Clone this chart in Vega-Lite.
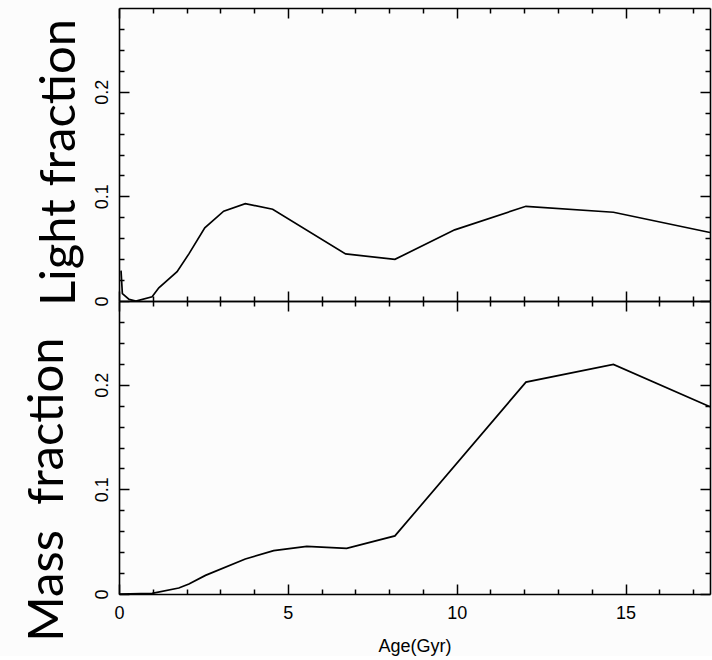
{
  "$schema": "https://vega.github.io/schema/vega-lite/v6.json",
  "background": "#fcfcfc",
  "padding": {"left": 23, "top": 7, "right": 0, "bottom": 0},
  "spacing": 0,
  "bounds": "flush",
  "datasets": {
    "light": [
      {"age": 0.06, "frac": 0.029},
      {"age": 0.1, "frac": 0.007},
      {"age": 0.3, "frac": 0.0015},
      {"age": 0.5, "frac": 0.0},
      {"age": 0.98, "frac": 0.004},
      {"age": 1.18, "frac": 0.0126},
      {"age": 1.72, "frac": 0.028},
      {"age": 2.07, "frac": 0.045},
      {"age": 2.54, "frac": 0.07},
      {"age": 3.1, "frac": 0.0858},
      {"age": 3.74, "frac": 0.093},
      {"age": 4.55, "frac": 0.0877},
      {"age": 6.71, "frac": 0.045},
      {"age": 8.17, "frac": 0.0398},
      {"age": 9.94, "frac": 0.068},
      {"age": 12.05, "frac": 0.0905},
      {"age": 14.64, "frac": 0.0848},
      {"age": 17.5, "frac": 0.0655}
    ],
    "mass": [
      {"age": 0.0, "frac": 0.0},
      {"age": 0.98, "frac": 0.0006},
      {"age": 1.77, "frac": 0.0057},
      {"age": 2.07, "frac": 0.0096},
      {"age": 2.56, "frac": 0.0178},
      {"age": 3.74, "frac": 0.0335},
      {"age": 4.58, "frac": 0.0414},
      {"age": 5.56, "frac": 0.0455},
      {"age": 6.74, "frac": 0.0436},
      {"age": 8.17, "frac": 0.0555},
      {"age": 12.05, "frac": 0.2025},
      {"age": 14.64, "frac": 0.2194},
      {"age": 17.5, "frac": 0.179}
    ]
  },
  "config": {
    "view": {"stroke": null},
    "axis": {
      "grid": false,
      "domainColor": "black",
      "domainWidth": 1.6,
      "tickColor": "black",
      "tickWidth": 1.5,
      "labelColor": "black",
      "titleColor": "black",
      "labelFont": "Liberation Sans",
      "labelFontSize": 18,
      "titleFont": "Liberation Sans",
      "titleFontWeight": "normal",
      "labelFlush": false,
      "labelOverlap": false
    },
    "line": {"color": "black", "strokeWidth": 1.7, "clip": true}
  },
  "vconcat": [
    {
      "width": 591,
      "height": 293,
      "data": {"name": "light"},
      "layer": [
        {
          "mark": {"type": "line"},
          "encoding": {
            "x": {
              "field": "age", "type": "quantitative",
              "scale": {"domain": [0, 17.5], "nice": false, "zero": false},
              "axis": {"orient": "bottom", "values": [0, 5, 10, 15], "tickSize": -10, "labels": false, "title": null}
            },
            "y": {
              "field": "frac", "type": "quantitative",
              "scale": {"domain": [0, 0.28], "nice": false},
              "axis": {
                "orient": "left", "values": [0, 0.1, 0.2], "format": "~g", "tickSize": -10,
                "labelAngle": -90, "labelAlign": "center", "labelBaseline": "alphabetic", "labelPadding": 22,
                "title": "Light fraction", "titleFont": "Lato", "titleFontSize": 49, "titleAngle": -90,
                "titleX": -45, "titleY": 154, "titleAlign": "center", "titleBaseline": "alphabetic"
              }
            }
          }
        },
        {
          "mark": {"type": "line", "strokeOpacity": 0},
          "encoding": {
            "x": {"field": "age", "type": "quantitative", "axis": {"orient": "bottom", "values": [1, 2, 3, 4, 6, 7, 8, 9, 11, 12, 13, 14, 16, 17], "tickSize": -5, "labels": false, "domain": false, "title": null}},
            "y": {"field": "frac", "type": "quantitative", "axis": {"orient": "left", "values": [0.02, 0.04, 0.06, 0.08, 0.12, 0.14, 0.16, 0.18, 0.22, 0.24, 0.26], "tickSize": -5, "labels": false, "domain": false, "title": null}}
          }
        },
        {
          "mark": {"type": "line", "strokeOpacity": 0},
          "encoding": {
            "x": {"field": "age", "type": "quantitative", "axis": {"orient": "top", "values": [0, 5, 10, 15], "tickSize": -10, "labels": false, "title": null}},
            "y": {"field": "frac", "type": "quantitative", "axis": {"orient": "right", "values": [0, 0.1, 0.2], "tickSize": -10, "labels": false, "title": null}}
          }
        },
        {
          "mark": {"type": "line", "strokeOpacity": 0},
          "encoding": {
            "x": {"field": "age", "type": "quantitative", "axis": {"orient": "top", "values": [1, 2, 3, 4, 6, 7, 8, 9, 11, 12, 13, 14, 16, 17], "tickSize": -5, "labels": false, "domain": false, "title": null}},
            "y": {"field": "frac", "type": "quantitative", "axis": {"orient": "right", "values": [0.02, 0.04, 0.06, 0.08, 0.12, 0.14, 0.16, 0.18, 0.22, 0.24, 0.26], "tickSize": -5, "labels": false, "domain": false, "title": null}}
          }
        }
      ],
      "resolve": {"axis": {"x": "independent", "y": "independent"}}
    },
    {
      "width": 591,
      "height": 293,
      "data": {"name": "mass"},
      "layer": [
        {
          "mark": {"type": "line"},
          "encoding": {
            "x": {
              "field": "age", "type": "quantitative",
              "scale": {"domain": [0, 17.5], "nice": false, "zero": false},
              "axis": {
                "orient": "bottom", "values": [0, 5, 10, 15], "format": "~g", "tickSize": -10,
                "labelBaseline": "top", "labelAlign": "center", "labelPadding": 20,
                "title": "Age(Gyr)", "titleFontSize": 18, "titleX": 295.5, "titleY": 57.5,
                "titleAlign": "center", "titleBaseline": "alphabetic"
              }
            },
            "y": {
              "field": "frac", "type": "quantitative",
              "scale": {"domain": [0, 0.28], "nice": false},
              "axis": {
                "orient": "left", "values": [0, 0.1, 0.2], "format": "~g", "tickSize": -10,
                "labelAngle": -90, "labelAlign": "center", "labelBaseline": "alphabetic", "labelPadding": 22,
                "title": "Mass\u00a0\u00a0fraction", "titleFont": "Lato", "titleFontSize": 49, "titleAngle": -90,
                "titleX": -57, "titleY": 188, "titleAlign": "center", "titleBaseline": "alphabetic"
              }
            }
          }
        },
        {
          "mark": {"type": "line", "strokeOpacity": 0},
          "encoding": {
            "x": {"field": "age", "type": "quantitative", "axis": {"orient": "bottom", "values": [1, 2, 3, 4, 6, 7, 8, 9, 11, 12, 13, 14, 16, 17], "tickSize": -5, "labels": false, "domain": false, "title": null}},
            "y": {"field": "frac", "type": "quantitative", "axis": {"orient": "left", "values": [0.02, 0.04, 0.06, 0.08, 0.12, 0.14, 0.16, 0.18, 0.22, 0.24, 0.26], "tickSize": -5, "labels": false, "domain": false, "title": null}}
          }
        },
        {
          "mark": {"type": "line", "strokeOpacity": 0},
          "encoding": {
            "x": {"field": "age", "type": "quantitative", "axis": {"orient": "top", "values": [0, 5, 10, 15], "tickSize": -10, "labels": false, "title": null}},
            "y": {"field": "frac", "type": "quantitative", "axis": {"orient": "right", "values": [0, 0.1, 0.2], "tickSize": -10, "labels": false, "title": null}}
          }
        },
        {
          "mark": {"type": "line", "strokeOpacity": 0},
          "encoding": {
            "x": {"field": "age", "type": "quantitative", "axis": {"orient": "top", "values": [1, 2, 3, 4, 6, 7, 8, 9, 11, 12, 13, 14, 16, 17], "tickSize": -5, "labels": false, "domain": false, "title": null}},
            "y": {"field": "frac", "type": "quantitative", "axis": {"orient": "right", "values": [0.02, 0.04, 0.06, 0.08, 0.12, 0.14, 0.16, 0.18, 0.22, 0.24, 0.26], "tickSize": -5, "labels": false, "domain": false, "title": null}}
          }
        }
      ],
      "resolve": {"axis": {"x": "independent", "y": "independent"}}
    }
  ]
}
